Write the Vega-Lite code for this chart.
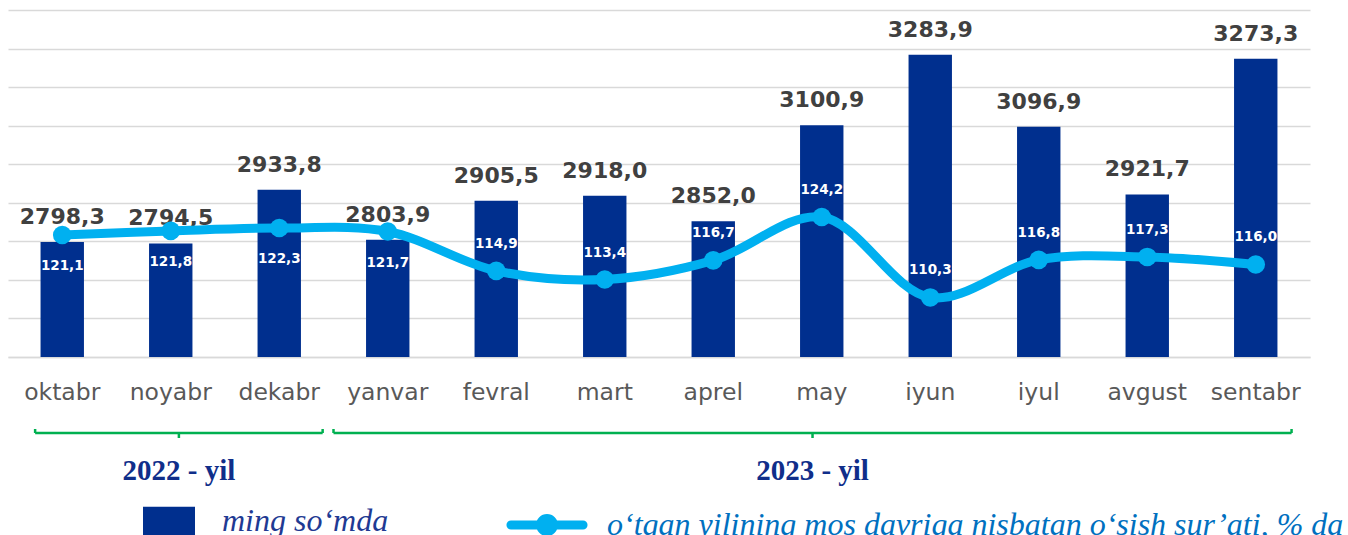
{
  "$schema": "https://vega.github.io/schema/vega-lite/v6.json",
  "padding": {"left": 8, "top": 10, "right": 0, "bottom": 0},
  "background": "white",
  "spacing": 19,
  "config": {
    "view": {"stroke": null},
    "locale": {"number": {"decimal": ",", "thousands": " ", "grouping": [3], "currency": ["", ""]}}
  },
  "datasets": {
    "months": [
      {"month": "oktabr", "value": 2798.3, "rate": 121.1},
      {"month": "noyabr", "value": 2794.5, "rate": 121.8},
      {"month": "dekabr", "value": 2933.8, "rate": 122.3},
      {"month": "yanvar", "value": 2803.9, "rate": 121.7},
      {"month": "fevral", "value": 2905.5, "rate": 114.9},
      {"month": "mart", "value": 2918.0, "rate": 113.4},
      {"month": "aprel", "value": 2852.0, "rate": 116.7},
      {"month": "may", "value": 3100.9, "rate": 124.2},
      {"month": "iyun", "value": 3283.9, "rate": 110.3},
      {"month": "iyul", "value": 3096.9, "rate": 116.8},
      {"month": "avgust", "value": 2921.7, "rate": 117.3},
      {"month": "sentabr", "value": 3273.3, "rate": 116.0}
    ],
    "years": [
      {"year": "2022 - yil", "start": 0.25, "end": 2.9},
      {"year": "2023 - yil", "start": 3.0, "end": 11.83}
    ]
  },
  "vconcat": [
    {
      "width": 1302,
      "height": 347,
      "data": {"name": "months"},
      "encoding": {
        "x": {
          "field": "month", "type": "nominal", "sort": null,
          "scale": {"paddingInner": 0.6, "paddingOuter": 0.3},
          "axis": {
            "title": null, "labelAngle": 0, "labelFont": "DejaVu Sans", "labelFontSize": 23.5,
            "labelColor": "#595959", "ticks": false, "tickSize": 0, "labelPadding": 23,
            "domainColor": "#d9d9d9", "domainWidth": 1.5, "grid": false
          }
        }
      },
      "layer": [
        {
          "layer": [
            {
              "mark": {"type": "bar", "clip": true},
              "encoding": {
                "y": {
                  "field": "value", "type": "quantitative",
                  "scale": {"domain": [2500, 3400], "zero": false, "nice": false},
                  "axis": {
                    "values": [2500, 2600, 2700, 2800, 2900, 3000, 3100, 3200, 3300, 3400],
                    "tickCount": 20,
                    "labels": false, "ticks": false, "domain": false, "grid": true,
                    "gridColor": "#d9d9d9", "gridWidth": 1.5, "title": null
                  }
                },
                "color": {
                  "datum": "ming so‘mda", "type": "nominal",
                  "scale": {"range": ["#002F8E"]},
                  "legend": {
                    "orient": "none", "legendX": 135, "legendY": 485, "title": null,
                    "symbolType": "M-1,-0.55L1,-0.55L1,0.55L-1,0.55Z", "symbolSize": 2704,
                    "symbolStrokeWidth": 0, "labelFont": "Liberation Serif", "labelFontStyle": "italic",
                    "labelFontSize": 32, "labelColor": "#1F3A93", "labelOffset": 27, "labelLimit": 0
                  }
                }
              }
            },
            {
              "mark": {"type": "text", "font": "DejaVu Sans", "fontWeight": "bold", "fontSize": 22, "color": "#404040", "baseline": "alphabetic", "dy": -18},
              "encoding": {
                "y": {"field": "value", "type": "quantitative"},
                "text": {"field": "value", "type": "quantitative", "format": ".1f"}
              }
            }
          ]
        },
        {
          "layer": [
            {
              "mark": {"type": "line", "interpolate": "catmull-rom", "strokeWidth": 9, "strokeCap": "round"},
              "encoding": {
                "y": {"field": "rate", "type": "quantitative", "scale": {"domain": [100, 160], "zero": false, "nice": false}, "axis": null},
                "stroke": {
                  "datum": "o‘tgan yilining mos davriga nisbatan o‘sish sur’ati, % da", "type": "nominal",
                  "scale": {"range": ["#00B0F0"]},
                  "legend": {
                    "orient": "none", "legendX": 494, "legendY": 470, "title": null,
                    "symbolType": "M-0.89,0L0.89,0M0.16,0A0.16,0.16,0,1,1,-0.16,0A0.16,0.16,0,1,1,0.16,0Z",
                    "symbolSize": 6561, "symbolStrokeWidth": 9, "symbolFillColor": "#00B0F0",
                    "labelFont": "Liberation Serif", "labelFontStyle": "italic",
                    "labelFontSize": 32, "labelColor": "#0070C0", "labelOffset": 15, "labelLimit": 0,
                    "encode": {"symbols": {"update": {"fill": {"value": "#00B0F0"}, "strokeCap": {"value": "round"}}}}
                  }
                }
              }
            },
            {
              "mark": {"type": "point", "filled": true, "size": 346, "color": "#00B0F0", "opacity": 1},
              "encoding": {"y": {"field": "rate", "type": "quantitative"}}
            },
            {
              "transform": [{"filter": "indexof(['oktabr','noyabr','dekabr','yanvar'], datum.month) >= 0"}],
              "mark": {"type": "text", "font": "DejaVu Sans", "fontWeight": "bold", "fontSize": 13.5, "color": "white", "baseline": "middle", "dy": 31},
              "encoding": {
                "y": {"field": "rate", "type": "quantitative"},
                "text": {"field": "rate", "type": "quantitative", "format": ".1f"}
              }
            },
            {
              "transform": [{"filter": "indexof(['oktabr','noyabr','dekabr','yanvar'], datum.month) < 0"}],
              "mark": {"type": "text", "font": "DejaVu Sans", "fontWeight": "bold", "fontSize": 13.5, "color": "white", "baseline": "middle", "dy": -27},
              "encoding": {
                "y": {"field": "rate", "type": "quantitative"},
                "text": {"field": "rate", "type": "quantitative", "format": ".1f"}
              }
            }
          ]
        }
      ],
      "resolve": {"scale": {"y": "independent"}}
    },
    {
      "width": 1302,
      "height": 60,
      "data": {"name": "years"},
      "transform": [{"calculate": "(datum.start + datum.end) / 2", "as": "mid"}],
      "layer": [
        {
          "mark": {"type": "rule", "color": "#00B050", "strokeWidth": 2.5},
          "encoding": {
            "x": {"field": "start", "type": "quantitative", "scale": {"domain": [0, 12], "nice": false, "zero": false}, "axis": null},
            "x2": {"field": "end"},
            "y": {"datum": 10, "type": "quantitative", "scale": {"domain": [0, 60], "reverse": true, "nice": false, "zero": false}, "axis": null}
          }
        },
        {
          "mark": {"type": "rule", "color": "#00B050", "strokeWidth": 2.5},
          "encoding": {
            "x": {"field": "start", "type": "quantitative"},
            "y": {"datum": 6, "type": "quantitative"},
            "y2": {"datum": 10}
          }
        },
        {
          "mark": {"type": "rule", "color": "#00B050", "strokeWidth": 2.5},
          "encoding": {
            "x": {"field": "end", "type": "quantitative"},
            "y": {"datum": 6, "type": "quantitative"},
            "y2": {"datum": 10}
          }
        },
        {
          "mark": {"type": "rule", "color": "#00B050", "strokeWidth": 2.5},
          "encoding": {
            "x": {"field": "mid", "type": "quantitative"},
            "y": {"datum": 10, "type": "quantitative"},
            "y2": {"datum": 15}
          }
        },
        {
          "mark": {"type": "text", "font": "Liberation Serif", "fontWeight": "bold", "fontSize": 29, "color": "#102E8A", "baseline": "middle"},
          "encoding": {
            "x": {"field": "mid", "type": "quantitative"},
            "y": {"datum": 48, "type": "quantitative"},
            "text": {"field": "year"}
          }
        }
      ]
    }
  ]
}
